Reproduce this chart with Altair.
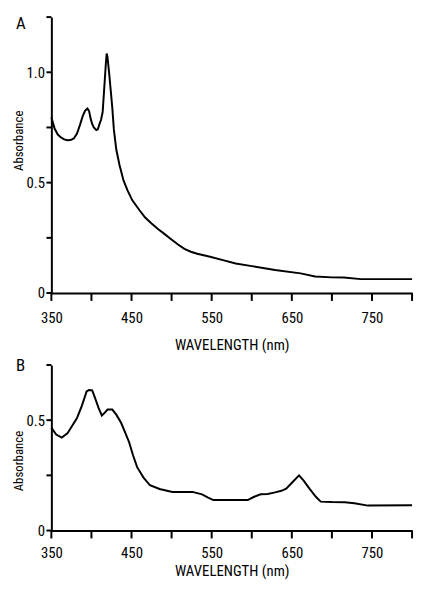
import altair as alt
import pandas as pd

# Panel A spectrum
wl_a = [350, 354, 358, 362, 366, 370, 374, 378, 382, 386, 389, 392, 395, 397, 399,
        401, 403, 406, 408, 410, 412, 414, 416, 418, 419, 420, 422, 424, 426, 428,
        431, 435, 440, 445, 451, 460, 467, 475, 483, 491, 499, 508, 516, 524, 532,
        548, 564, 580, 600, 629, 661, 679, 700, 715, 736, 800]
abs_a = [0.796, 0.745, 0.718, 0.705, 0.696, 0.692, 0.693, 0.700, 0.722, 0.765, 0.800,
         0.825, 0.836, 0.825, 0.79, 0.765, 0.75, 0.738, 0.742, 0.765, 0.785, 0.82,
         0.93, 1.04, 1.085, 1.07, 1.00, 0.92, 0.84, 0.74, 0.65, 0.58, 0.51, 0.465, 0.42,
         0.375, 0.342, 0.315, 0.29, 0.268, 0.245, 0.22, 0.200, 0.187, 0.178, 0.164,
         0.149, 0.134, 0.122, 0.104, 0.089, 0.075, 0.071, 0.070, 0.063, 0.063]

# Panel B spectrum
wl_b = [350, 356, 363, 370, 376, 382, 388, 394, 397, 401, 405, 409, 413, 417, 420,
        426, 431, 437, 442, 447, 452, 457, 465, 473, 485, 501, 526, 538, 545, 552,
        595, 603, 611, 620, 629, 637, 643, 651, 659, 665, 672, 680, 686, 700, 716,
        728, 745, 800]
abs_b = [0.466, 0.435, 0.421, 0.44, 0.475, 0.51, 0.565, 0.63, 0.637, 0.635, 0.595,
         0.555, 0.521, 0.535, 0.548, 0.548, 0.525, 0.488, 0.445, 0.40, 0.34, 0.287,
         0.240, 0.205, 0.188, 0.175, 0.175, 0.164, 0.150, 0.138, 0.138, 0.153, 0.164,
         0.166, 0.173, 0.180, 0.19, 0.22, 0.25, 0.225, 0.19, 0.153, 0.131, 0.129,
         0.128, 0.124, 0.113, 0.115]

x_ticks = [350, 400, 450, 500, 550, 600, 650, 700, 750, 800]
y_ticks_a = [0, 0.25, 0.5, 0.75, 1.0, 1.25]
y_ticks_b = [0, 0.25, 0.5, 0.75]
panel_labels = ["A", "B"]
x_title = "WAVELENGTH (nm)"
y_title = "Absorbance"

FONT = "Roboto Condensed"

x_label_expr = "(datum.value - 350) % 100 == 0 && datum.value < 800 ? datum.label : ''"
y_label_expr = ("datum.value == 0 ? '0' : datum.value == 0.5 ? '0.5' : "
                "datum.value == 1 ? '1.0' : ''")
y_label_size = {"condition": {"test": "datum.value > 1.2", "value": 0}, "value": 15}


def panel(wl, ab, ymax, yticks, height, label, title_y, lab_pad, title_pad, label_y):
    df = pd.DataFrame({"nm": wl, "absorbance": ab})
    xenc = alt.X("nm:Q", scale=alt.Scale(domain=[350, 800], nice=False, zero=False),
                 axis=alt.Axis(values=x_ticks, labelExpr=x_label_expr, title=x_title,
                               ticks=False, labelPadding=8 + lab_pad,
                               titlePadding=title_pad))
    yenc = alt.Y("absorbance:Q", scale=alt.Scale(domain=[0, ymax], nice=False),
                 axis=alt.Axis(values=yticks, labelExpr=y_label_expr, title=y_title,
                               ticks=False, labelPadding=7, titlePadding=1,
                               labelFontSize=y_label_size,
                               titleFontSize=13, titleY=title_y))
    line = alt.Chart(df).mark_line(color="black", strokeWidth=2).encode(x=xenc, y=yenc)
    xt = alt.Chart(pd.DataFrame({"nm": x_ticks})).mark_rule(
        color="black", strokeWidth=2
    ).encode(x=xenc, y=alt.value(height), y2=alt.value(height + 8))
    yt = alt.Chart(pd.DataFrame({"absorbance": yticks})).mark_rule(
        color="black", strokeWidth=2
    ).encode(y=yenc, x=alt.value(-5), x2=alt.value(0))
    lab = alt.Chart(pd.DataFrame({"t": [label]})).mark_text(
        align="left", baseline="top", fontSize=17, font=FONT, color="black"
    ).encode(text="t:N", x=alt.value(-36), y=alt.value(label_y))
    return alt.layer(line, xt, yt, lab).properties(width=366, height=height)


a = panel(wl_a, abs_a, 1.25, y_ticks_a, 280, panel_labels[0], 125, 10, 12, -1)
b = panel(wl_b, abs_b, 0.75, y_ticks_b, 168, panel_labels[1], 97, 7, 4, -7)

chart = alt.vconcat(a, b, spacing=5).properties(
    padding={"left": 4, "top": 3, "right": 0, "bottom": 0}
).configure_view(stroke=None).configure_axis(
    domainColor="black", domainWidth=2,
    grid=False, labelFont=FONT, titleFont=FONT, labelFontSize=15, titleFontSize=15,
    labelColor="black", titleColor="black", titleFontWeight="normal", labelFlush=False,
    labelOverlap=False
)

chart.save("out.html", embed_options={"renderer": "svg", "actions": False})
